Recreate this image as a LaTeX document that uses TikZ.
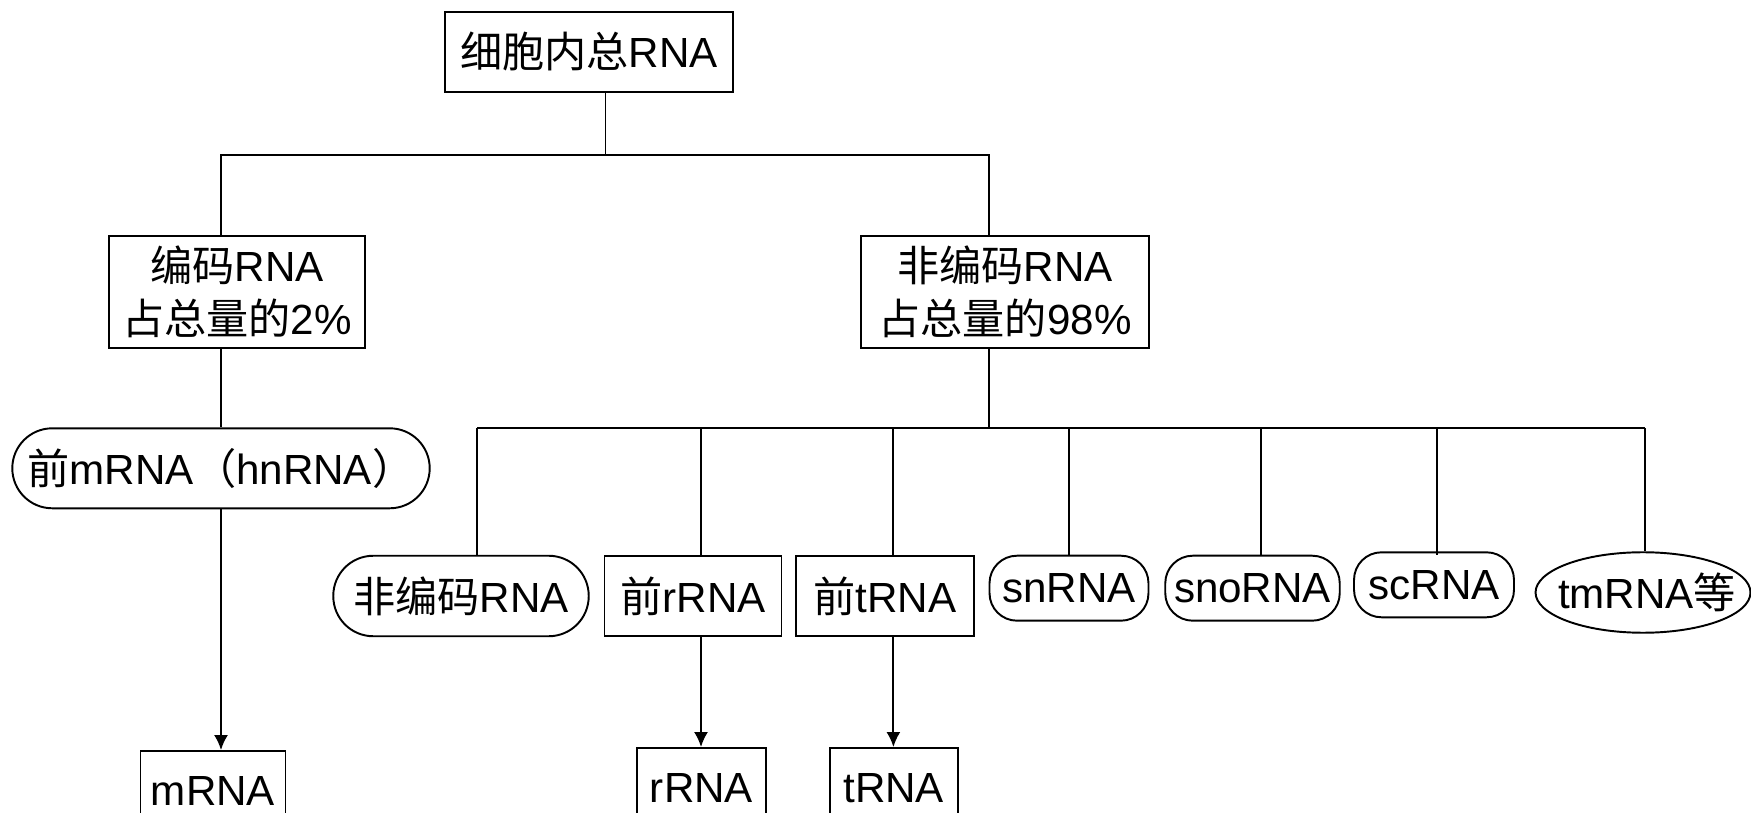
\documentclass[tikz,border=0pt]{standalone}
\usepackage{fontspec}
\setmainfont{Liberation Sans}
\newfontfamily\cjk{Noto Sans CJK SC}
\usetikzlibrary{arrows.meta,shapes.geometric}
\newcommand{\zh}[1]{{\cjk #1}}
\begin{document}
\begin{tikzpicture}[x=0.02cm,y=-0.02cm,
  every node/.style={font=\fontsize{24pt}{30pt}\selectfont, inner sep=0pt, align=center},
  box/.style={draw, rectangle, line width=1.1pt},
  pill/.style={draw, rectangle, line width=1.1pt, rounded corners=#1},
  oval/.style={draw, ellipse, line width=1.1pt},
  conn/.style={line width=1.1pt},
  arr/.style={conn, -{Latex[length=0.3cm,width=0.28cm]}}
]
\useasboundingbox (0,0) rectangle (1751,813);

% level 0
\node[box, minimum width=5.76cm, minimum height=1.6cm] (top) at (589,51.7) {\zh{细胞内总}RNA};
% level 1
\node[box, minimum width=5.13cm, minimum height=2.25cm] (L) at (237,292) {\zh{编码}RNA\\\zh{占总量的}2\%};
\node[box, minimum width=5.77cm, minimum height=2.25cm] (R) at (1005,292) {\zh{非编码}RNA\\\zh{占总量的}98\%};
% coding branch
\node[pill=0.8cm, minimum width=8.35cm, minimum height=1.6cm] (pm) at (221,468.3) {\zh{前}mRNA\zh{（}hnRNA\zh{）}};
\node[box, minimum width=2.9cm, minimum height=1.6cm] (mR) at (213,791) {mRNA};
% non-coding branch
\node[pill=0.8cm, minimum width=5.11cm, minimum height=1.61cm] (nc) at (461,596) {\zh{非编码}RNA};
\node[box, minimum width=3.54cm, minimum height=1.61cm] (prR) at (693,596) {\zh{前}rRNA};
\node[box, minimum width=3.55cm, minimum height=1.61cm] (prT) at (885,596) {\zh{前}tRNA};
\node[box, minimum width=2.57cm, minimum height=1.6cm] (rR) at (701.5,788) {rRNA};
\node[box, minimum width=2.56cm, minimum height=1.6cm] (tR) at (893.7,788) {tRNA};
\node[pill=0.55cm, minimum width=3.18cm, minimum height=1.3cm] (sn) at (1069,588.2) {snRNA};
\node[pill=0.55cm, minimum width=3.49cm, minimum height=1.3cm] (sno) at (1252.5,588.2) {snoRNA};
\node[pill=0.55cm, minimum width=3.2cm, minimum height=1.3cm] (sc) at (1434,584.8) {scRNA};
\node[oval, minimum width=4.3cm, minimum height=1.61cm] (tm) at (1643,592.5) {};
\node (tmt) at (1647,592.5) {tmRNA\zh{等}};

% connectors level 0 -> 1
\coordinate (jt) at (605.5,155.3);
\coordinate (ja) at (221,155.3);
\coordinate (jb) at (989.4,155.3);
\draw[conn] (top.south -| jt) -- (jt);
\draw[conn] (L.north -| ja) -- (ja) -- (jb) -- (R.north -| jb);
% coding branch
\draw[conn] (L.south -| ja) -- (pm.north -| ja);
\draw[arr] (pm.south -| ja) -- (mR.north -| ja);
% non-coding bus
\coordinate (b0) at (989.4,428.3);
\coordinate (d1) at (477,428.3);
\coordinate (d2) at (701,428.3);
\coordinate (d3) at (893.4,428.3);
\coordinate (d4) at (1069.2,428.3);
\coordinate (d5) at (1261.2,428.3);
\coordinate (d6) at (1437,428.3);
\coordinate (d7) at (1645,428.3);
\draw[conn] (R.south -| b0) -- (b0);
\draw[conn] (d1) -- (d7);
\draw[conn] (d1) -- (nc.north -| d1);
\draw[conn] (d2) -- (prR.north -| d2);
\draw[conn] (d3) -- (prT.north -| d3);
\draw[conn] (d4) -- (sn.north -| d4);
\draw[conn] (d5) -- (sno.north -| d5);
\draw[conn] (d6) -- ([yshift=-0.07cm]sc.north -| d6);
\draw[conn] (d7) -- (tm.north -| d7);
\draw[arr] (prR.south -| d2) -- (rR.north -| d2);
\draw[arr] (prT.south -| d3) -- (tR.north -| d3);
\end{tikzpicture}
\end{document}
